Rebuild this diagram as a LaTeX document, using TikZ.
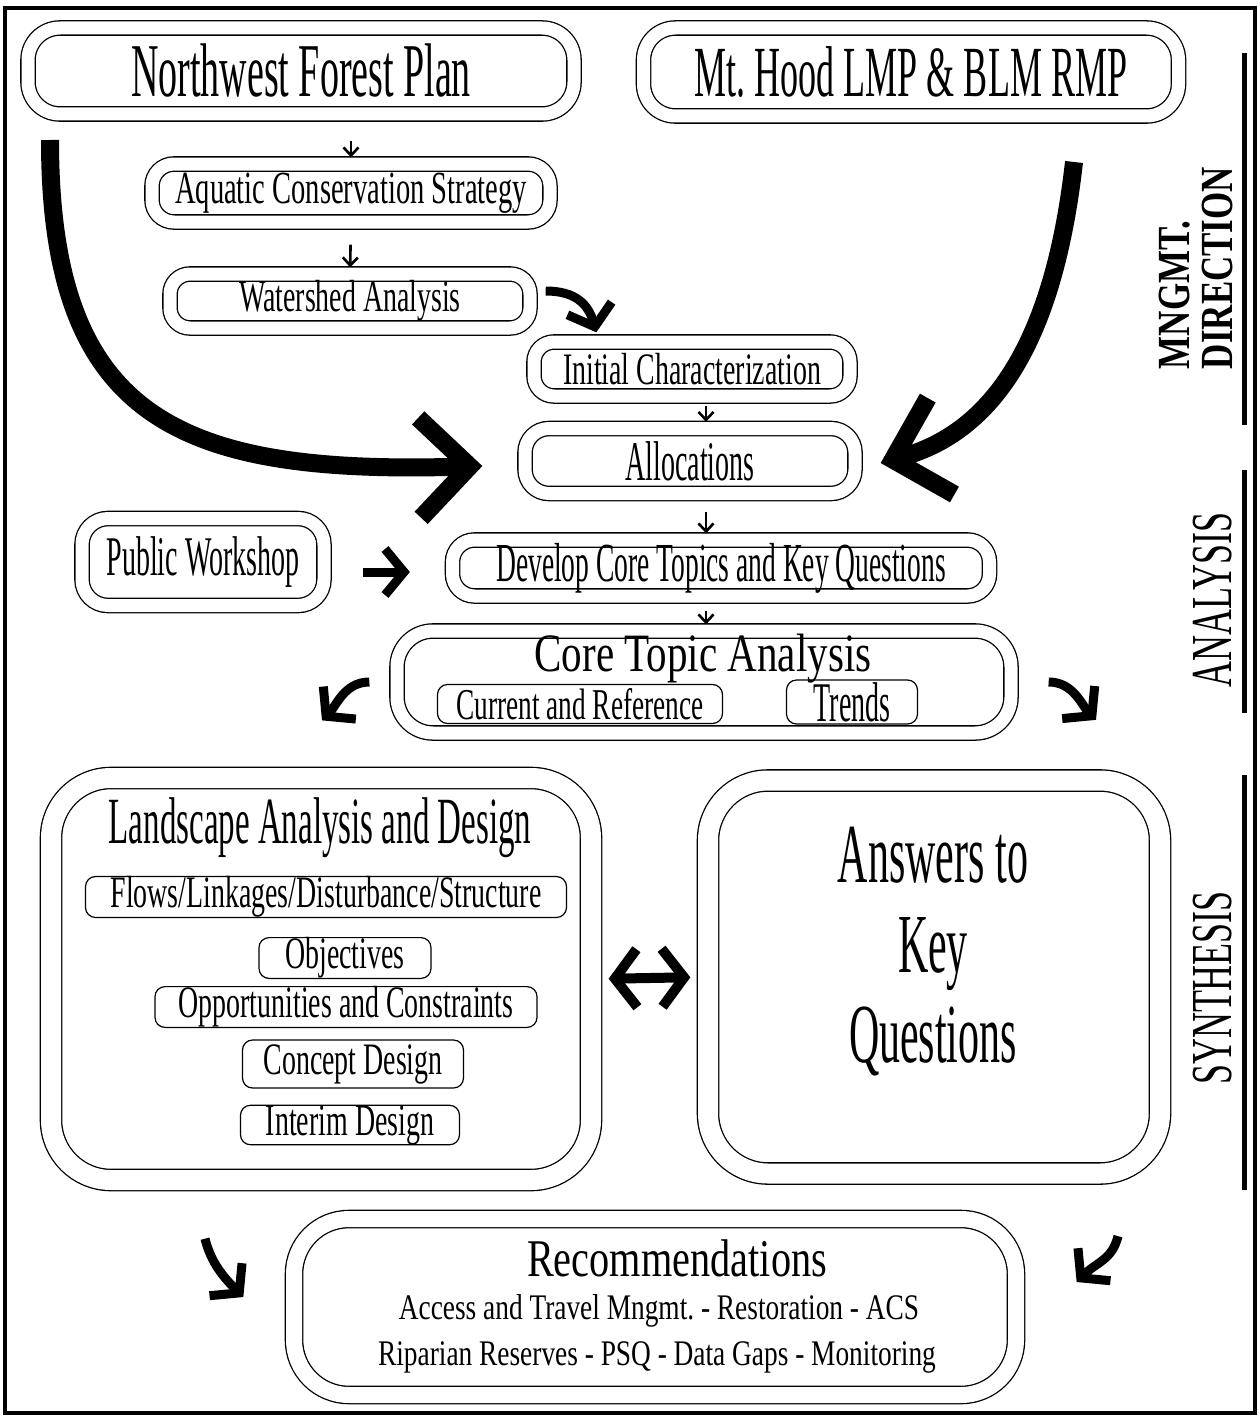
\documentclass[tikz,border=0pt]{standalone}
\usepackage{fontspec}
\setmainfont{Liberation Serif}
\newfontfamily\narrowA[FakeStretch=0.5]{Liberation Serif}
\newfontfamily\narrowB[FakeStretch=0.62]{Liberation Serif}
\newfontfamily\narrowC[FakeStretch=0.76]{Liberation Serif}
\newcommand{\fsz}[1]{\fontsize{#1}{#1}\selectfont}
\usetikzlibrary{arrows.meta}
\tikzset{
plan/.style={ % double outlined box
draw, double, double distance=13pt, line width=1.3pt,
rounded corners=22pt, inner sep=0pt},
bigplan/.style={plan, double distance=20pt, rounded corners=60pt},
item/.style={draw, line width=1.2pt, rounded corners=10pt, inner sep=0pt},
condA/.style={font=\narrowA\fsz{#1}},
condB/.style={font=\narrowB\fsz{#1}},
condC/.style={font=\narrowC\fsz{#1}},
side/.style={rotate=90, align=left},
thin arrow/.style={ % small arrows between boxes
line width=2.6pt, shorten >=6pt,
-{Straight Barb[sharp, length=8pt, width=15pt]}},
bent arrow/.style={line width=9pt,
-{Straight Barb[sharp, length=19pt, width=46pt]}},
big arrow/.style={line width=18pt,
-{Straight Barb[sharp, length=50pt, width=100pt]}}}
\frenchspacing

\begin{document}
\begin{tikzpicture}[x=1pt, y=-1pt]
\useasboundingbox (0,0) rectangle (1259,1418);
\draw[line width=3.5pt] (5,8) rectangle (1255,1413);
\foreach \a/\b in {53/425, 470/713, 775/1190}
  \draw[line width=5pt] (1244,\a) -- (1244,\b);

% side labels
\node[side, font=\narrowC\bfseries\fontsize{46}{43}\selectfont] (mngmt) at (1196,268) {MNGMT.\\DIRECTION};
\node[side, condB=58] (analysis) at (1213,600) {ANALYSIS};
\node[side, condB=58] (synthesis) at (1213,988) {SYNTHESIS};

% management direction
\node[plan, rounded corners=32pt, minimum width=546pt, minimum height=86pt, condA=76] (nwfp) at (301,71) {Northwest Forest Plan};
\node[plan, rounded corners=32pt, minimum width=535pt, minimum height=88pt, condA=72] (mthood) at (911,72) {Mt.\ Hood LMP \& BLM RMP};
\node[plan, minimum width=398pt, minimum height=58pt, condB=46] (acs) at (351,193) {Aquatic Conservation Strategy};
\node[plan, rounded corners=20pt, minimum width=360pt, minimum height=54pt, condB=45] (wsa) at (350,301) {Watershed Analysis};
\node[plan, rounded corners=20pt, minimum width=316pt, minimum height=54pt, condB=45] (initchar) at (692,369) {Initial Characterization};
\node[plan, rounded corners=24pt, minimum width=330pt, minimum height=65pt, condA=56] (alloc) at (690,461) {Allocations};

% analysis
\node[plan, rounded corners=26pt, minimum width=242pt, minimum height=87pt, condA=56] (pubws) at (203,562) {Public Workshop};
\node[plan, minimum width=537pt, minimum height=56pt, condA=55] (devcore) at (721,568) {Develop Core Topics and Key Questions};
\node[plan, rounded corners=36pt, minimum width=614pt, minimum height=102pt] (coretopic) at (704,682) {};
\node[condC=54] (cttitle) at (703,659) {Core Topic Analysis};
\node[item, minimum width=285pt, minimum height=39pt, condB=44] (current) at (580,704) {Current and Reference};
\node[item, minimum width=131pt, minimum height=44pt, condA=56] (trends) at (852,702) {Trends};

% synthesis
\node[bigplan, minimum width=540pt, minimum height=402pt] (landscape) at (321,979) {};
\node[condA=66] (ladtitle) at (320,828) {Landscape Analysis and Design};
\node[item, minimum width=481pt, minimum height=40pt, condB=45] (flows) at (326,897) {Flows/Linkages/Disturbance/Structure};
\node[item, minimum width=172pt, minimum height=40pt, condB=45] (objectives) at (345,958) {Objectives};
\node[item, minimum width=382pt, minimum height=39pt, condB=45] (opportunities) at (346,1007) {Opportunities and Constraints};
\node[item, minimum width=221pt, minimum height=48pt, condB=45] (concept) at (353,1064) {Concept Design};
\node[item, minimum width=219pt, minimum height=39pt, condB=45] (interim) at (350,1125) {Interim Design};
\node[bigplan, minimum width=452pt, minimum height=393pt] (answers) at (934,977) {};
\node[align=center, font=\narrowA\fontsize{84}{90}\selectfont] (anstext) at (933,952) {Answers to\\Key\\Questions};

% recommendations
\node[plan, double distance=16pt, rounded corners=55pt, minimum width=722pt, minimum height=176pt] (recom) at (655,1307) {};
\node[condC=53] (rectitle) at (677,1258) {Recommendations};
\node[condC=36] (recline1) at (659,1311) {Access and Travel Mngmt. - Restoration - ACS};
\node[condC=36] (recline2) at (657,1357) {Riparian Reserves - PSQ - Data Gaps - Monitoring};

% small arrows
\coordinate (spine) at (706,0);
\draw[thin arrow, shorten <=26pt] (nwfp.south -| acs.north) -- (acs.north);
\draw[thin arrow, shorten <=22pt] (acs.south) -- (wsa.north);
\draw[thin arrow, shorten <=9pt] (initchar.south -| spine) -- (alloc.north -| spine);
\draw[thin arrow, shorten <=18pt] (alloc.south -| spine) -- (devcore.north -| spine);
\draw[thin arrow, shorten <=14pt] (devcore.south -| spine) -- (coretopic.north -| spine);

% bent arrows
\draw[bent arrow] ([xshift=15pt, yshift=10pt]wsa.east) .. controls +(30,0) and +(-8,-28) .. ([xshift=63pt, yshift=9pt]initchar.north west);
\coordinate (pw-out) at ([yshift=-10pt]pubws.east);
\draw[bent arrow, shorten <=38pt, shorten >=42pt] (pw-out) -- (pw-out -| devcore.west);
\draw[bent arrow] ([xshift=-27pt]coretopic.west) .. controls +(-25,0) and +(14,-14) .. ([xshift=1pt, yshift=57pt]landscape.north);
\draw[bent arrow] ([xshift=37pt]coretopic.east) .. controls +(25,0) and +(-14,-14) .. ([xshift=162pt, yshift=60pt]answers.north);
\draw[bent arrow, line width=10pt, {Straight Barb[sharp, length=22pt, width=58pt]}-{Straight Barb[sharp, length=22pt, width=58pt]}, shorten <=17pt, shorten >=17pt] (landscape.east) -- (answers.west);
\draw[bent arrow] ([xshift=-116pt, yshift=-58pt]landscape.south) .. controls +(6,24) and +(-20,-20) .. ([xshift=-50pt, yshift=10pt]recom.west);
\draw[bent arrow] ([xshift=184pt, yshift=-62pt]answers.south) .. controls +(-6,24) and +(20,-20) .. ([xshift=60pt, yshift=25pt]recom.east);

% big arrows from the plans
\coordinate (plan-left) at (50,140);
\coordinate (plan-right) at (1074,162);
\draw[big arrow] (plan-left) .. controls (50,420) and (180,475) .. ([xshift=-42pt, yshift=-5pt]alloc.west);
\draw[big arrow] (plan-right) .. controls (1055,330) and (1000,430) .. ([xshift=25pt, yshift=-2pt]alloc.east);
\end{tikzpicture}
\end{document}
